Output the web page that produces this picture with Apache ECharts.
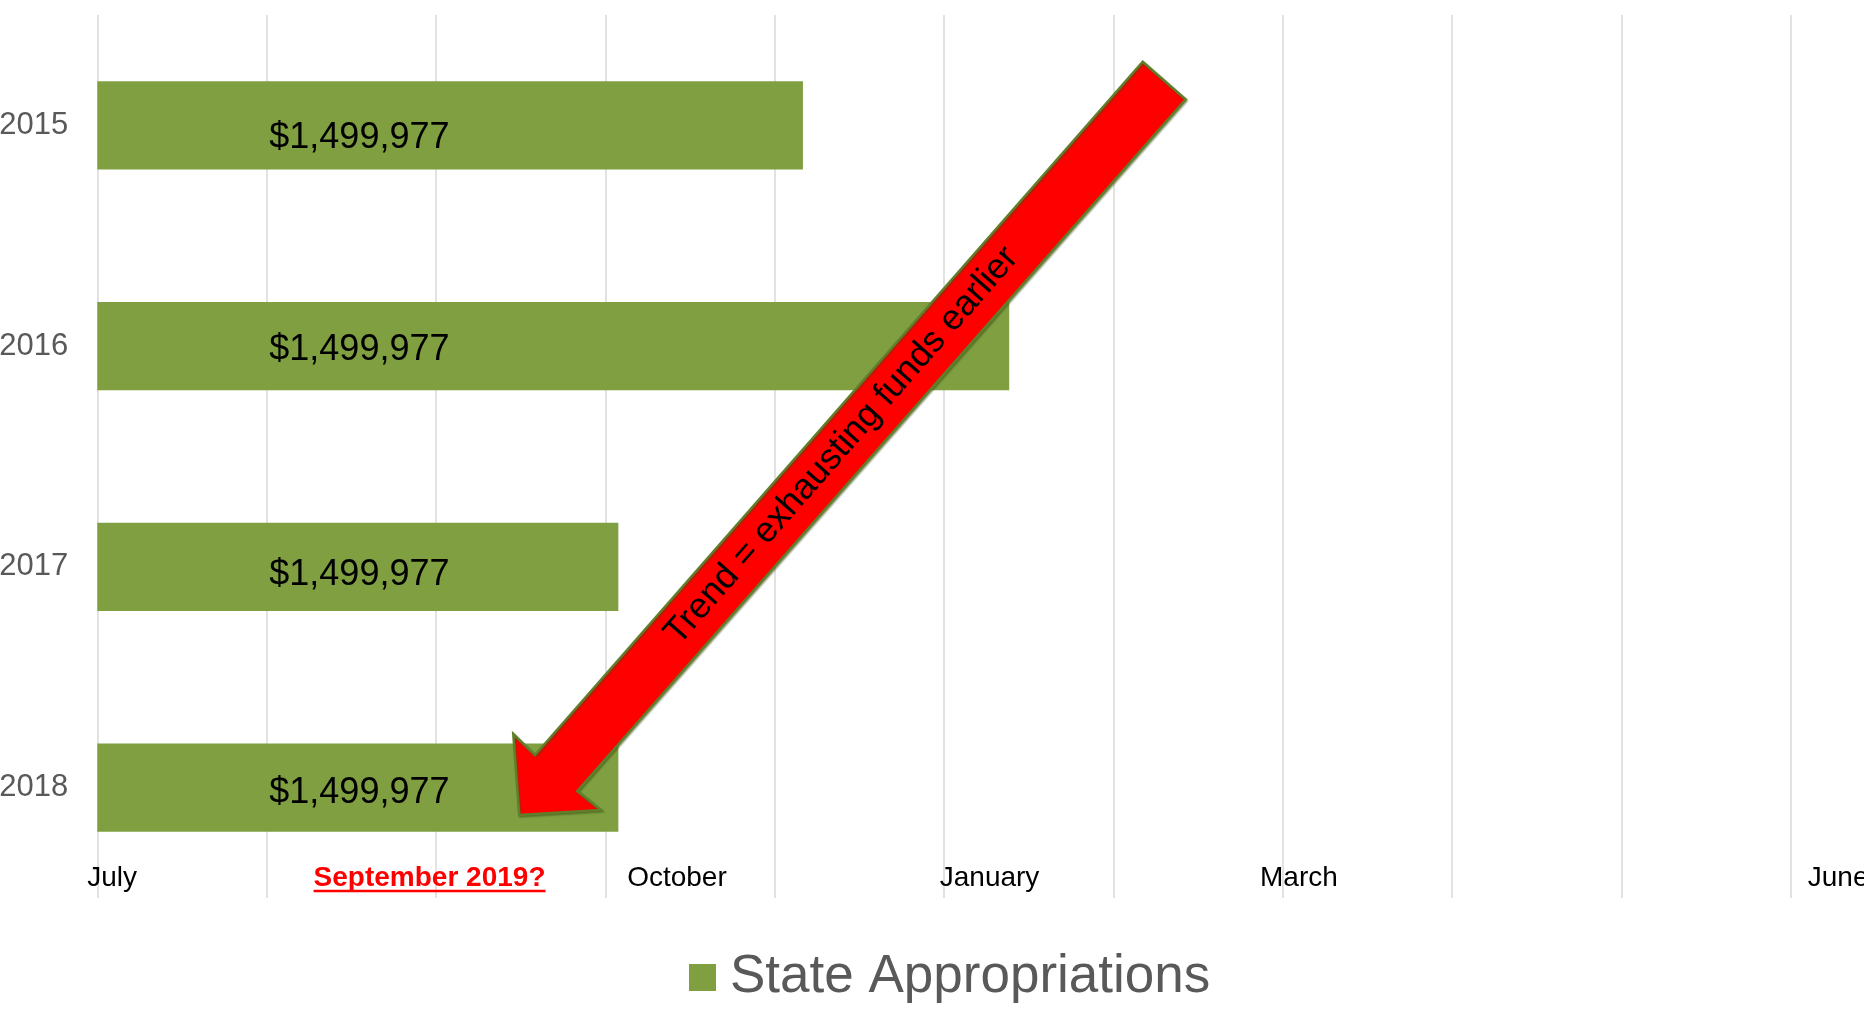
<!DOCTYPE html>
<html>
<head>
<meta charset="utf-8">
<title>State Appropriations</title>
<script src="https://cdn.jsdelivr.net/npm/echarts@6/dist/echarts.min.js"></script>
<style>
  html, body { margin: 0; padding: 0; background: #ffffff; }
  #chart { width: 1864px; height: 1009px; }
</style>
</head>
<body>
<div id="chart"></div>
<script>
// ---- data ----
const years = ['2015', '2016', '2017', '2018'];
// how far into the fiscal year the appropriation lasted (timeline units, 0 = July)
const fundsLasted = [4.167, 5.385, 3.077, 3.077];
// appropriation amount printed on each bar
const appropriations = [1499977, 1499977, 1499977, 1499977];
// month markers along the timeline
const monthNames = ['July', 'September 2019?', 'October', 'January', 'March', 'June'];
const monthAt = [0.087, 1.962, 3.423, 5.269, 7.096, 10.28];
const timelineMin = 0;
const timelineMax = 10;
const seriesName = 'State Appropriations';
const trendNote = 'Trend = exhausting funds earlier';

// ---- layout / style ----
const FONT = '"Liberation Sans", Arial, Helvetica, sans-serif';
const BAR_GREEN = '#7F9F40';
const GRID_GRAY = '#D9D9D9';
const TEXT_GRAY = '#595959';
const labelNudge = [12.5, 3.5, 8.5, 5.5];  // hand-placed amount labels sit a little low
const monthLabelY = 878.5;                  // month names sit just inside the plot bottom
const highlightMonth = 'September 2019?';

const chart = echarts.init(document.getElementById('chart'), null, { renderer: 'canvas' });

const fmtMoney = v => '$' + v.toLocaleString('en-US');

chart.setOption({
  backgroundColor: '#ffffff',
  animation: false,
  textStyle: { fontFamily: FONT },
  grid: {
    left: 97.3, right: 73.3, top: 15, bottom: 111,
    containLabel: false,
    outerBoundsMode: 'none'
  },
  xAxis: {
    type: 'value',
    min: timelineMin,
    max: timelineMax,
    interval: 1,
    axisLine: { show: false },
    axisTick: { show: false },
    axisLabel: { show: false },
    splitLine: { show: true, lineStyle: { color: GRID_GRAY, width: 1.5 } }
  },
  yAxis: {
    type: 'category',
    inverse: true,
    data: years,
    axisLine: { show: false },
    axisTick: { show: false },
    splitLine: { show: false },
    axisLabel: {
      margin: 29,
      fontSize: 31,
      color: TEXT_GRAY,
      fontFamily: FONT,
      padding: [4, 0, 0, 0]
    }
  },
  legend: {
    data: [seriesName],
    left: 689,
    top: 951,
    padding: 0,
    icon: 'rect',
    itemWidth: 27,
    itemHeight: 27,
    textStyle: { fontSize: 53, color: TEXT_GRAY, fontFamily: FONT, padding: [0, 0, 0, 9] }
  },
  series: [{
    name: seriesName,
    type: 'bar',
    barCategoryGap: '60%',
    itemStyle: { color: BAR_GREEN },
    data: fundsLasted.map((v, i) => ({
      value: v,
      amount: appropriations[i],
      label: { offset: [0, labelNudge[i]] }
    })),
    label: {
      show: true,
      position: [172, '50%'],
      align: 'left',
      verticalAlign: 'middle',
      fontSize: 36,
      color: '#000000',
      fontFamily: FONT,
      formatter: p => fmtMoney(p.data.amount)
    }
  }]
});

// month names and the trend arrow, placed through the timeline scale
function drawOverlay() {
  const els = [];
  const measure = document.createElement('canvas').getContext('2d');
  monthNames.forEach((name, i) => {
    const x = chart.convertToPixel({ xAxisIndex: 0 }, monthAt[i]);
    const hot = name === highlightMonth;
    els.push({
      type: 'text',
      x: x,
      y: monthLabelY,
      z: 10,
      style: {
        text: name,
        fontSize: 28,
        fontWeight: hot ? 'bold' : 'normal',
        fontFamily: FONT,
        fill: hot ? '#FF0000' : '#000000',
        align: 'center',
        verticalAlign: 'middle'
      }
    });
    if (hot) {
      // underline for the highlighted month
      measure.font = 'bold 28px ' + FONT;
      const half = measure.measureText(name).width / 2;
      els.push({
        type: 'line',
        z: 10,
        shape: { x1: x - half, y1: monthLabelY + 12.5, x2: x + half, y2: monthLabelY + 12.5 },
        style: { stroke: '#FF0000', lineWidth: 2.5 }
      });
    }
  });

  // block arrow: tail up-right, head pointing down-left
  const arrowPts = [
    [1142.7, 61.7], [1185.7, 99.3], [577.3, 791], [601, 810],
    [519.3, 815], [513.3, 734], [535, 755]
  ];
  els.push({
    type: 'polygon',
    z: 20,
    shape: { points: arrowPts },
    style: {
      fill: '#FF0000',
      stroke: '#5F7F2B',
      lineWidth: 2.5,
      lineJoin: 'miter',
      shadowBlur: 1.5,
      shadowOffsetX: 1,
      shadowOffsetY: 1.5,
      shadowColor: 'rgba(60,80,20,0.45)'
    }
  });
  const tailMid = [(arrowPts[0][0] + arrowPts[1][0]) / 2, (arrowPts[0][1] + arrowPts[1][1]) / 2];
  const tip = arrowPts[4];
  const cx = (tailMid[0] + tip[0]) / 2;
  const cy = (tailMid[1] + tip[1]) / 2;
  const angle = Math.atan2(tip[1] - tailMid[1], tailMid[0] - tip[0]);
  els.push({
    type: 'text',
    z: 21,
    x: cx,
    y: cy - 2,
    rotation: angle,
    style: {
      text: trendNote,
      fontSize: 36,
      fontFamily: FONT,
      fill: '#000000',
      align: 'center',
      verticalAlign: 'middle'
    }
  });
  chart.setOption({ graphic: els });
}
drawOverlay();
</script>
</body>
</html>
